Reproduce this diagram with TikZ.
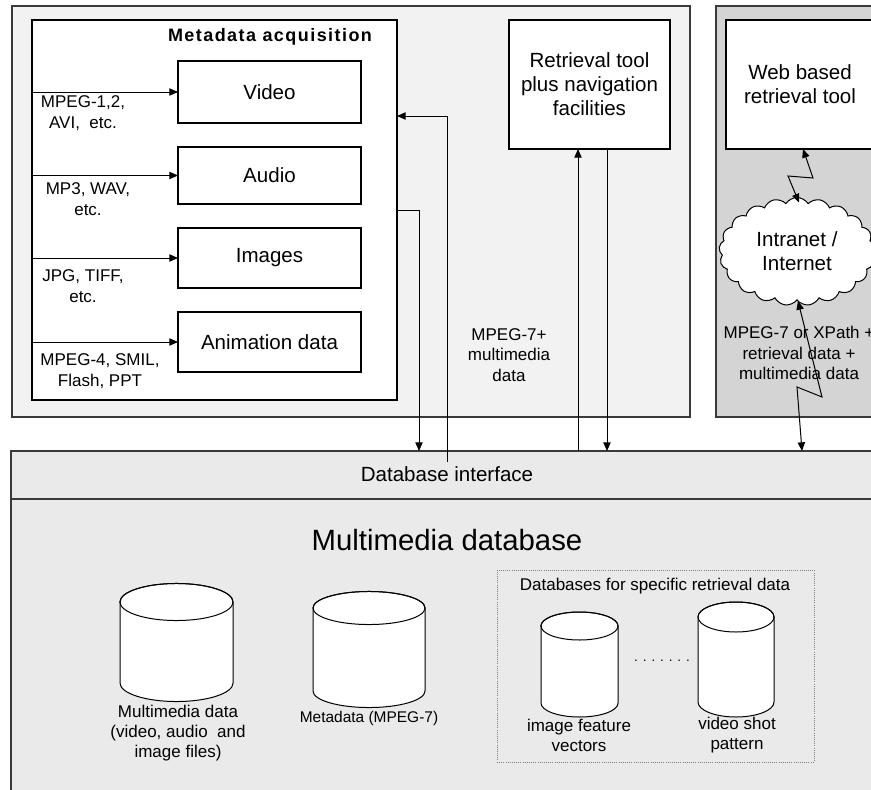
\documentclass[tikz,border=0pt]{standalone}
\usepackage{fontspec}
\setmainfont{Liberation Sans}
\usetikzlibrary{arrows.meta,shapes.symbols}
\definecolor{leftfill}{HTML}{F2F2F2}
\definecolor{rightfill}{HTML}{D4D4D4}
\definecolor{dbfill}{HTML}{EAEAEA}
\definecolor{frame}{HTML}{3A3A3A}
\begin{document}
\begin{tikzpicture}[x=0.75pt,y=-0.75pt,
  panel/.style={draw=frame,line width=1pt,inner sep=0pt,outer sep=0pt},
  box/.style={draw=black,fill=white,line width=0.9pt,inner sep=0pt,outer sep=0pt},
  sz/.style 2 args={minimum width=#1*0.75pt,minimum height=#2*0.75pt},
  med/.style={font=\fontsize{15.4pt}{18pt}\selectfont,align=center,inner sep=0pt},
  sm/.style={font=\fontsize{12.75pt}{15.6pt}\selectfont,align=center,inner sep=0pt},
  lbl/.style={font=\fontsize{12.75pt}{15pt}\selectfont,align=center,inner sep=0pt},
  arr/.style={line width=0.75pt,-{Triangle[length=6.5pt,width=5.5pt]}},
  arrb/.style={line width=0.75pt,{Triangle[length=6.5pt,width=5.5pt]}-{Triangle[length=6.5pt,width=5.5pt]}},
  cyl/.style={draw=black,fill=white,line width=0.75pt}
]
\useasboundingbox (0,0) rectangle (871,789);
\clip (0,0) rectangle (871,789);

% ---- left panel ----
\node[panel,fill=leftfill,sz={678}{411}] (lpanel) at (351,211.5) {};
\node[box,sz={365}{380}] (acq) at (214.5,210) {};
\node[inner sep=0pt,font=\bfseries\fontsize{13.5pt}{16pt}\selectfont\addfontfeature{LetterSpace=8}] (acqt) at (270,37) {Metadata acquisition};

\node[box,med,sz={183}{62}] (video) at (269.5,92) {Video};
\node[box,med,sz={183}{57}] (audio) at (269.5,175.5) {Audio};
\node[box,med,sz={183}{60}] (images) at (269.5,258) {Images};
\node[box,med,sz={183}{60}] (anim) at (269.5,342) {Animation data};

\draw[arr] (acq.west |- video.west) -- (video.west);
\draw[arr] (acq.west |- audio.west) -- (audio.west);
\draw[arr] (acq.west |- images.west) -- (images.west);
\draw[arr] (acq.west |- anim.west) -- (anim.west);

\node[sm] (l1) at (83,113) {MPEG-1,2,\\AVI,\ \ etc.};
\node[sm] (l2) at (88,199) {MP3, WAV,\\etc.};
\node[sm] (l3) at (83,286) {JPG, TIFF,\\etc.};
\node[sm] (l4) at (100,371) {MPEG-4, SMIL,\\Flash, PPT};

\node[box,med,sz={161}{129}] (retr) at (589.5,84.5) {Retrieval tool\\plus navigation\\facilities};
\node[sm] (mp7) at (509,355) {MPEG-7+\\multimedia\\data};

% ---- right panel ----
\node[panel,fill=rightfill,sz={200}{411}] (rpanel) at (816,211.5) {};
\node[box,sz={180}{129}] (web) at (816,84.5) {};
\node[med] (webt) at (800,84) {Web based\\retrieval tool};
\node[cloud,draw=black,fill=white,line width=0.75pt,cloud puffs=21,cloud puff arc=115,cloud ignores aspect,
      minimum width=156*0.75pt,minimum height=108*0.75pt,inner sep=0pt,med] (cloud) at (797,251.5) {Intranet /\\Internet};
\node[sm] (xp) at (799,353) {MPEG-7 or XPath +\\retrieval data +\\multimedia data};

% ---- database ----
\node[panel,fill=dbfill,sz={889}{48}] (dbif) at (455.5,475) {};
\node[panel,fill=dbfill,sz={889}{301}] (mmdb) at (455.5,649.5) {};
\node[inner sep=0pt,font=\fontsize{15.4pt}{18pt}\selectfont] (dbift) at (447,474) {Database interface};
\node[inner sep=0pt,font=\fontsize{22pt}{26pt}\selectfont] (mmdbt) at (447,540) {Multimedia database};

\node[draw=gray,densely dotted,line width=0.6pt,sz={317}{192},inner sep=0pt] (spec) at (655.5,666) {};
\node[lbl] (spect) at (655,586) {Databases for specific retrieval data};

% cylinders
\filldraw[cyl] (120,602) -- (120,683) arc[start angle=180,end angle=360,x radius=42.4pt,y radius=13.9pt]
  -- (233,602) arc[start angle=0,end angle=180,x radius=42.4pt,y radius=13.9pt] -- cycle;
\draw[line width=0.75pt] (176.5,602) ellipse[x radius=42.4pt,y radius=13.9pt];
\node[lbl] (c1t) at (178,733) {Multimedia data\\(video, audio\ \ and\\image files)};

\filldraw[cyl] (313,608) -- (313,691) arc[start angle=180,end angle=360,x radius=42pt,y radius=12.4pt]
  -- (425,608) arc[start angle=0,end angle=180,x radius=42pt,y radius=12.4pt] -- cycle;
\draw[line width=0.75pt] (369,608) ellipse[x radius=42pt,y radius=12.4pt];
\node[inner sep=0pt,font=\fontsize{11.6pt}{14pt}\selectfont] (c2t) at (369,718) {Metadata (MPEG-7)};

\filldraw[cyl] (541,626) -- (541,703) arc[start angle=180,end angle=360,x radius=28.9pt,y radius=10.5pt]
  -- (618,626) arc[start angle=0,end angle=180,x radius=28.9pt,y radius=10.5pt] -- cycle;
\draw[line width=0.75pt] (579.5,626) ellipse[x radius=28.9pt,y radius=10.5pt];
\node[lbl] (c3t) at (579,735) {image feature\\vectors};

\filldraw[cyl] (698,617) -- (698,702) arc[start angle=180,end angle=360,x radius=28.5pt,y radius=11.25pt]
  -- (774,617) arc[start angle=0,end angle=180,x radius=28.5pt,y radius=11.25pt] -- cycle;
\draw[line width=0.75pt] (736,617) ellipse[x radius=28.5pt,y radius=11.25pt];
\node[lbl] (c4t) at (737,735) {video shot\\pattern};

\node[inner sep=0pt,font=\fontsize{10pt}{12pt}\selectfont] (dots) at (662,661) {. . . . . . .};

% ---- connectors ----
\draw[arr] (acq.east |- 0,210) -- (419,210) -- (dbif.north -| 419,0);
\draw[arr] (447,462) -- (447,116) -- (acq.east |- 0,116);
\draw[arr] (dbif.north -| 578,0) -- (retr.south -| 578,0);
\draw[arr] (retr.south -| 607,0) -- (dbif.north -| 607,0);
\draw[arrb] (web.south -| 803,0) -- (813,178) -- (788,176) -- (799,202.5);
\draw[arrb] (798,301) -- (817,377) -- (822,397) -- (797,387) -- (dbif.north -| 802,0);
\draw[arr] (886,234) -- (871,244);
\end{tikzpicture}
\end{document}
